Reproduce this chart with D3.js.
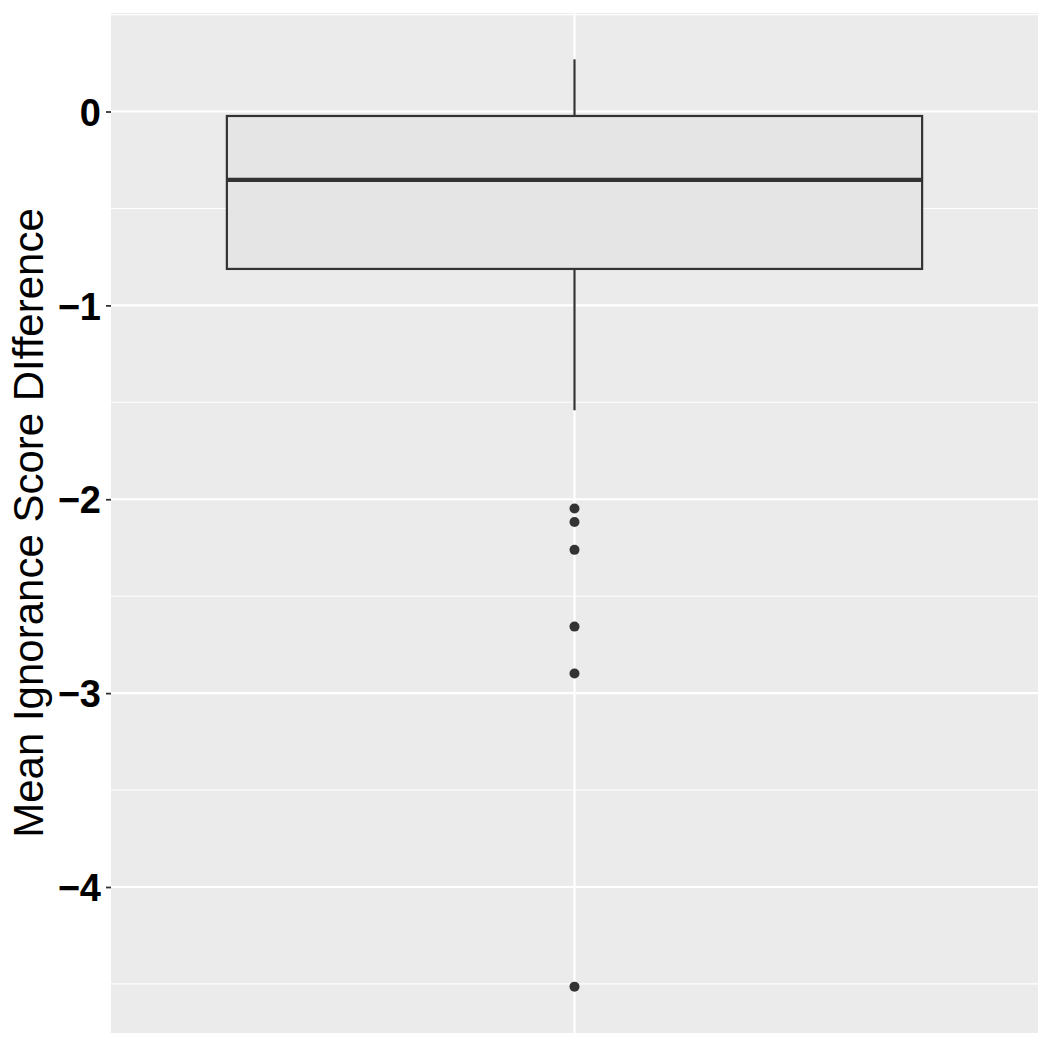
<!DOCTYPE html>
<html>
<head>
<meta charset="utf-8">
<script src="https://cdn.jsdelivr.net/npm/d3@7"></script>
<style>
  body { margin: 0; background: #fff; }
  svg { display: block; font-family: "Liberation Sans", Arial, Helvetica, sans-serif; }
</style>
</head>
<body>
<div id="chart"></div>
<script>
// boxplot summary
var boxGroups = ["all"];
var boxLower = [-0.812];
var boxMiddle = [-0.353];
var boxUpper = [-0.023];
var whiskerLow = [-1.541];
var whiskerHigh = [0.269];
var outliers = [-2.048, -2.117, -2.261, -2.657, -2.899, -4.514];
var yTicks = [0, -1, -2, -3, -4];
var yMinor = [0.5, -0.5, -1.5, -2.5, -3.5, -4.5];
var yTitle = "Mean Ignorance Score DIfference";

const W = 1050, H = 1050;
const panelLeft = 111, panelRight = 1038, panelTop = 13, panelBottom = 1033;

var svg = d3.select("#chart").append("svg")
    .attr("width", W)
    .attr("height", H);

// y range with the usual 5% padding
var lo = d3.min(outliers.concat(whiskerLow));
var hi = d3.max(whiskerHigh);
var pad = (hi - lo) * 0.05;
var y = d3.scaleLinear().domain([lo - pad, hi + pad]).range([panelBottom, panelTop]);
var x = d3.scaleBand().domain(boxGroups).range([panelLeft, panelRight]).paddingInner(0).paddingOuter(0.1);
var xc = function (g) { return x(g) + x.bandwidth() / 2; };
// box is 0.9 wide on a 1.2 wide discrete axis
var boxHalf = (panelRight - panelLeft) * 0.75 / 2;

// panel
svg.append("rect")
    .attr("x", panelLeft).attr("y", panelTop)
    .attr("width", panelRight - panelLeft).attr("height", panelBottom - panelTop)
    .attr("fill", "#ebebeb");

var grid = svg.append("g");
grid.selectAll(".minor").data(yMinor.filter(function (d) { return y(d) > panelTop && y(d) < panelBottom; }))
    .enter().append("line")
    .attr("x1", panelLeft).attr("x2", panelRight)
    .attr("y1", function (d) { return y(d); }).attr("y2", function (d) { return y(d); })
    .attr("stroke", "#fff").attr("stroke-width", 1.1);
grid.selectAll(".major").data(yTicks)
    .enter().append("line")
    .attr("x1", panelLeft).attr("x2", panelRight)
    .attr("y1", function (d) { return y(d); }).attr("y2", function (d) { return y(d); })
    .attr("stroke", "#fff").attr("stroke-width", 2.2);
grid.selectAll(".vmajor").data(boxGroups)
    .enter().append("line")
    .attr("x1", xc).attr("x2", xc)
    .attr("y1", panelTop).attr("y2", panelBottom)
    .attr("stroke", "#fff").attr("stroke-width", 2.2);

// whiskers, box, median, outliers
var box = svg.append("g");
boxGroups.forEach(function (g, i) {
    var cx = xc(g);
    box.append("line")
        .attr("x1", cx).attr("x2", cx)
        .attr("y1", y(whiskerHigh[i])).attr("y2", y(boxUpper[i]))
        .attr("stroke", "#333").attr("stroke-width", 2.2);
    box.append("line")
        .attr("x1", cx).attr("x2", cx)
        .attr("y1", y(boxLower[i])).attr("y2", y(whiskerLow[i]))
        .attr("stroke", "#333").attr("stroke-width", 2.2);
    box.append("rect")
        .attr("x", cx - boxHalf).attr("width", boxHalf * 2)
        .attr("y", y(boxUpper[i])).attr("height", y(boxLower[i]) - y(boxUpper[i]))
        .attr("fill", "#e5e5e5").attr("stroke", "#333").attr("stroke-width", 2.2);
    box.append("line")
        .attr("x1", cx - boxHalf).attr("x2", cx + boxHalf)
        .attr("y1", y(boxMiddle[i])).attr("y2", y(boxMiddle[i]))
        .attr("stroke", "#333").attr("stroke-width", 4.2);
    box.selectAll(".out" + i).data(outliers)
        .enter().append("circle")
        .attr("cx", cx).attr("cy", function (d) { return y(d); })
        .attr("r", 5)
        .attr("fill", "#333");
});

// y axis
var yAxis = svg.append("g")
    .attr("transform", "translate(" + panelLeft + ",0)")
    .call(d3.axisLeft(y).tickValues(yTicks).tickSize(5).tickPadding(5).tickFormat(d3.format("d")));
yAxis.select(".domain").remove();
yAxis.selectAll(".tick line").attr("stroke", "#333").attr("stroke-width", 1.8);
yAxis.selectAll(".tick text")
    .attr("fill", "#000")
    .style("font-size", "38px")
    .style("font-weight", "bold")
    .attr("dy", "0.36em");

svg.append("text")
    .attr("transform", "translate(43," + ((panelTop + panelBottom) / 2) + ") rotate(-90)")
    .attr("text-anchor", "middle")
    .style("font-size", "42px")
    .attr("fill", "#000")
    .text(yTitle);
</script>
</body>
</html>
